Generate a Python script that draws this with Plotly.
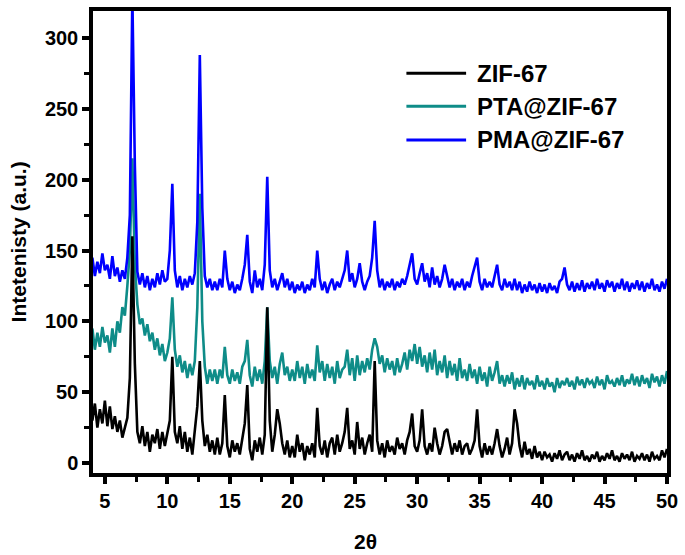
import numpy as np
import plotly.graph_objects as go

# 2-theta grid, 0.2 degree sampling from 4 to 50
two_theta = np.round(np.arange(4.0, 50.0001, 0.2), 1)

zif67 = [
    30, 42, 25, 38, 28, 44, 26, 40, 24, 33,
    22, 30, 18, 26, 32, 60, 160, 70, 22, 14,
    26, 12, 22, 8, 20, 14, 24, 10, 22, 12,
    20, 30, 75, 22, 14, 26, 10, 22, 8, 18,
    6, 22, 40, 72, 30, 12, 20, 8, 16, 6,
    18, 6, 14, 48, 12, 4, 16, 8, 14, 6,
    18, 28, 55, 10, 2, 16, 8, 18, 6, 20,
    110, 30, 8, 20, 38, 28, 14, 6, 16, 4,
    12, 4, 20, 8, 14, 2, 12, 6, 14, 4,
    39, 12, 6, 16, 4, 14, 18, 6, 20, 8,
    14, 22, 39, 10, 16, 6, 29, 10, 18, 6,
    14, 20, 8, 72, 16, 6, 14, 4, 16, 8,
    12, 6, 18, 10, 14, 6, 16, 22, 35, 12,
    8, 16, 38, 12, 6, 14, 8, 25, 14, 6,
    12, 22, 24, 16, 6, 14, 8, 16, 6, 12,
    14, 6, 10, 16, 38, 12, 4, 14, 6, 12,
    6, 14, 24, 12, 4, 10, 18, 6, 14, 38,
    28, 12, 4, 15, 6, 10, 3, 12, 4, 8,
    2, 8, 4, 6, 1, 7, 3, 9, 2, 6,
    8, 2, 6, 1, 7, 3, 9, 2, 5, 1,
    6, 3, 8, 1, 5, 2, 7, 3, 9, 2,
    5, 1, 7, 3, 6, 2, 8, 1, 5, 3,
    7, 2, 6, 1, 8, 3, 5, 2, 9, 4,
    10,
]

pta_zif67 = [
    95, 80, 92, 82, 96, 85, 90, 78, 95, 82,
    100, 92, 110, 104, 125, 150, 215, 140, 112, 98,
    102, 90, 98, 86, 92, 80, 88, 76, 84, 72,
    78, 88, 117, 80, 68, 76, 64, 72, 60, 70,
    62, 72, 110, 190, 100, 68, 56, 66, 58, 66,
    56, 66, 60, 82, 62, 56, 66, 58, 64, 56,
    68, 72, 87, 62, 54, 68, 58, 66, 56, 72,
    110, 72, 60, 68, 56, 70, 78, 62, 68, 58,
    66, 58, 72, 60, 68, 56, 70, 60, 66, 58,
    83, 64, 72, 58, 70, 60, 68, 56, 72, 60,
    66, 68, 80, 62, 74, 58, 76, 62, 72, 64,
    74, 66, 80, 88, 82, 70, 76, 64, 74, 66,
    72, 62, 74, 64, 70, 78, 66, 80, 72, 84,
    70, 82, 68, 76, 64, 78, 66, 80, 62, 72,
    64, 76, 60, 72, 62, 70, 58, 74, 60, 66,
    58, 70, 60, 66, 56, 68, 58, 64, 54, 68,
    58, 64, 72, 56, 62, 54, 62, 56, 64, 52,
    60, 54, 62, 52, 60, 55, 58, 52, 62, 54,
    58, 52, 60, 54, 57, 50, 60, 53, 58, 55,
    60, 54, 58, 52, 61, 55, 59, 53, 60, 56,
    58, 53, 61, 55, 59, 52, 62, 56, 58, 54,
    60, 55, 62, 54, 59, 56, 63, 55, 61, 54,
    62, 56, 60, 53, 63, 57, 61, 54, 62, 56,
    65,
]

pma_zif67 = [
    145, 132, 142, 134, 148, 136, 140, 130, 146, 132,
    138, 128, 136, 130, 145, 175, 330, 210, 135, 126,
    134, 124, 132, 122, 130, 124, 134, 126, 136, 128,
    130, 150, 197, 136, 124, 132, 122, 130, 124, 132,
    126, 134, 170, 288, 180, 132, 124, 130, 122, 128,
    122, 130, 124, 150, 130, 122, 128, 120, 126, 122,
    130, 140, 161, 128, 120, 136, 124, 130, 122, 140,
    202, 136, 124, 130, 122, 128, 134, 124, 130, 122,
    128, 120, 126, 122, 128, 120, 126, 122, 130, 124,
    150, 130, 122, 128, 120, 126, 130, 122, 128, 124,
    130, 136, 150, 128, 134, 124, 130, 141, 128, 122,
    128, 132, 145, 171, 136, 124, 130, 122, 128, 124,
    130, 122, 128, 124, 130, 126, 132, 140, 148, 130,
    126, 134, 141, 128, 134, 124, 138, 126, 132, 124,
    130, 140, 132, 124, 130, 122, 128, 124, 130, 122,
    128, 124, 132, 138, 145, 128, 122, 130, 124, 128,
    124, 132, 140, 126, 122, 130, 124, 128, 122, 130,
    122, 128, 120, 126, 121, 128, 122, 126, 120, 127,
    121, 126, 120, 127, 122, 125, 120, 128, 130, 138,
    126, 122, 128, 121, 127, 122, 129, 121, 127, 123,
    128, 122, 130, 123, 127, 121, 129, 124, 128, 121,
    127, 123, 130, 122, 128, 121, 127, 123, 129, 122,
    128, 121, 127, 123, 130, 122, 126, 121, 128, 123,
    130,
]

series_names = ["ZIF-67", "PTA@ZIF-67", "PMA@ZIF-67"]
series_colors = ["#000000", "#0E8C88", "#0000FF"]

x_ticks = [5, 10, 15, 20, 25, 30, 35, 40, 45, 50]
y_ticks = [0, 50, 100, 150, 200, 250, 300]

FONT = "Arial, 'Liberation Sans', sans-serif"

fig = go.Figure()
# draw order: PTA, PMA, then ZIF-67 on top
for name, ys, col in [(series_names[1], pta_zif67, series_colors[1]),
                      (series_names[2], pma_zif67, series_colors[2]),
                      (series_names[0], zif67, series_colors[0])]:
    fig.add_trace(go.Scatter(x=two_theta, y=ys, mode="lines", name=name,
                             line=dict(color=col, width=2.6), showlegend=False))

axis_common = dict(
    showline=True, linecolor="black", linewidth=3.5, mirror=True,
    ticks="outside", ticklen=7, tickwidth=3.5, tickcolor="black",
    showgrid=False, zeroline=False,
    tickfont=dict(family=FONT, size=20, color="black", weight="bold"),
)

fig.update_xaxes(range=[4.05, 50], tickvals=x_ticks,
                 minor=dict(ticks="outside", ticklen=5, tickwidth=3, tickcolor="black", dtick=2.5, tick0=2.5),
                 **axis_common)
fig.update_yaxes(range=[-7, 319], tickvals=y_ticks,
                 minor=dict(ticks="outside", ticklen=5, tickwidth=3, tickcolor="black", dtick=25, tick0=25),
                 **axis_common)

# y-axis title
fig.add_annotation(xref="paper", yref="paper", x=-0.130, y=0.5, text="Intetenisty (a.u.)",
                   showarrow=False, textangle=-90, xanchor="center", yanchor="middle",
                   font=dict(family=FONT, size=21, color="black", weight="bold"))

# manual legend
legend_rows = [0.865, 0.794, 0.721]
for name, col, yy in zip(series_names, series_colors, legend_rows):
    fig.add_shape(type="line", xref="paper", yref="paper", x0=0.546, x1=0.650, y0=yy, y1=yy,
                  line=dict(color=col, width=3))
    fig.add_annotation(xref="paper", yref="paper", x=0.665, y=yy, text=name, showarrow=False,
                       xanchor="left", yanchor="middle",
                       font=dict(family=FONT, size=24, color="black", weight="bold"))

fig.add_annotation(xref="paper", yref="paper", x=0.475, y=-0.148, text="2θ", showarrow=False,
                   xanchor="center", yanchor="middle",
                   font=dict(family=FONT, size=21, color="black", weight="bold"))

fig.update_layout(
    width=685, height=555,
    margin=dict(l=93, r=15, t=7, b=82),
    paper_bgcolor="white", plot_bgcolor="white",
)

fig.write_html("out.html", config={"displayModeBar": False},
               post_script="document.body.style.margin='0px';document.body.style.padding='0px';")
